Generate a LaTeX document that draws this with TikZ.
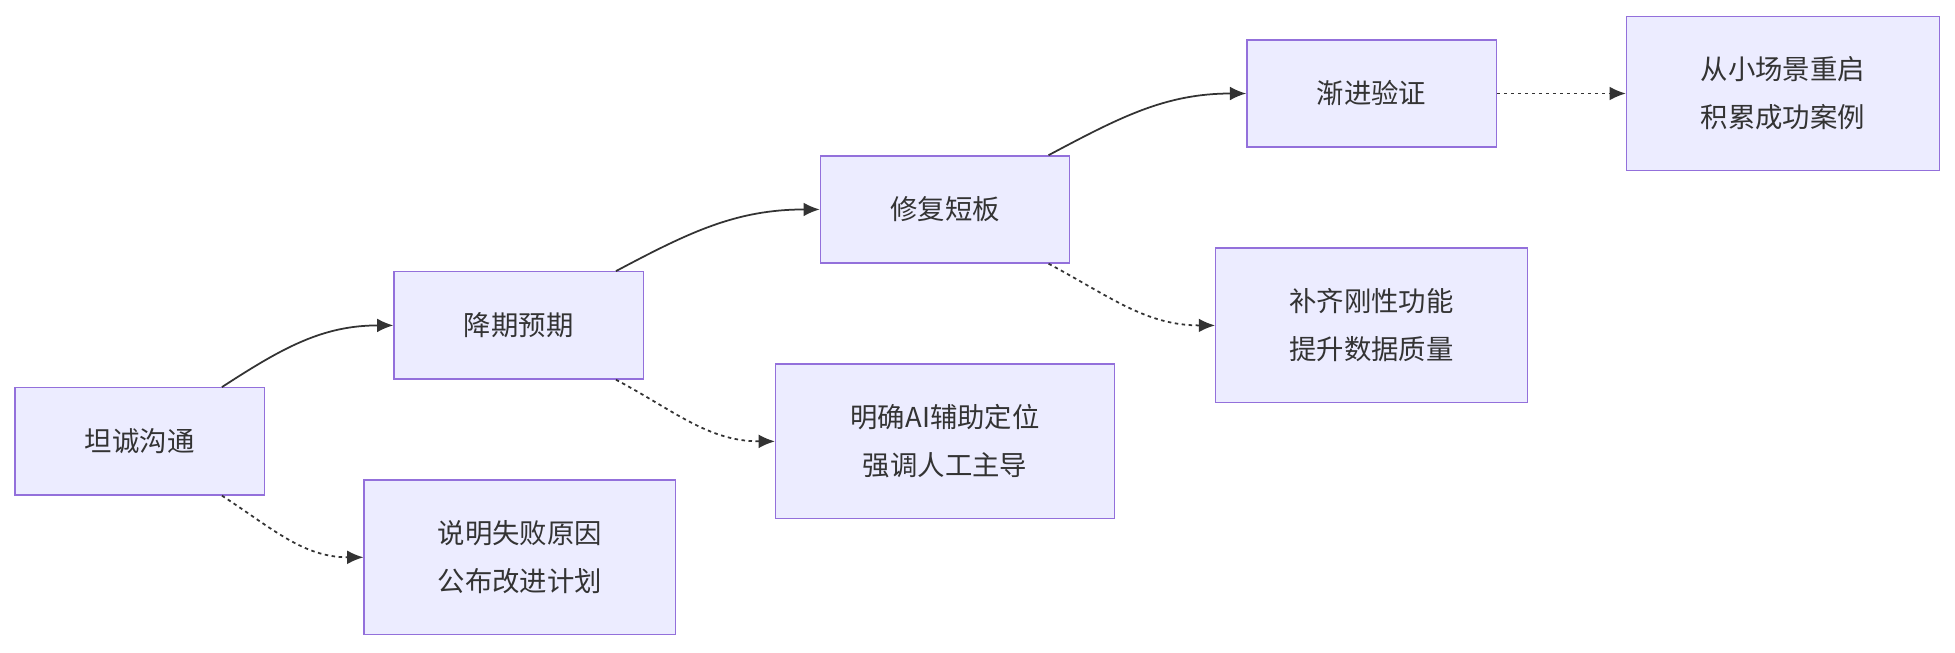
\documentclass[tikz,border=0pt]{standalone}
\usepackage{fontspec}
\setmainfont{Noto Sans CJK SC}
\usetikzlibrary{calc}
\usetikzlibrary{arrows.meta}

\definecolor{boxfill}{HTML}{ECECFF}
\definecolor{boxline}{HTML}{9370DB}
\definecolor{edgecol}{HTML}{333333}

\tikzset{
  stage/.style = {draw = boxline, fill = boxfill, line width = .6pt,
    minimum height = 1.72cm, minimum width = 4cm, align = center,
    font = \fontsize{12.5}{22}\selectfont, text = edgecol},
  wide/.style = {stage, minimum height = 2.48cm},
  flow/.style = {draw = edgecol, line width = .8pt, -{Latex[length = 2.6mm, width = 2.2mm]}},
  aside/.style = {flow, dash pattern = on 1.6pt off 1.6pt}
}

\begin{document}
\begin{tikzpicture}[x = .02cm, y = -.02cm]
  \useasboundingbox (0, 0) rectangle (1568, 523);

  \node[stage] (talk) at (112, 354) {坦诚沟通};
  \node[wide, minimum width = 5cm] (explain) at (417, 447) {说明失败原因\\公布改进计划};
  \node[stage] (lower) at (416, 261) {降期预期};
  \node[wide, minimum width = 5.44cm] (role) at (758, 354) {明确AI辅助定位\\强调人工主导};
  \node[stage] (fix) at (758, 168) {修复短板};
  \node[wide, minimum width = 5cm] (data) at (1100, 261) {补齐刚性功能\\提升数据质量};
  \node[stage] (verify) at (1100, 75) {渐进验证};
  \node[wide, minimum width = 5.02cm] (restart) at (1430, 75) {从小场景重启\\积累成功案例};

  % main line
  \draw[flow] ([xshift = 1.32cm]talk.north) to[out = 33, in = 180] (lower.west);
  \draw[flow] ([xshift = 1.56cm]lower.north) to[out = 28, in = 180] (fix.west);
  \draw[flow] ([xshift = 1.66cm]fix.north) to[out = 28, in = 180] (verify.west);
  \draw[aside] (verify.east) -- (restart.west);

  % side notes
  \draw[aside] ([xshift = 1.32cm]talk.south) to[out = -33, in = 180] (explain.west);
  \draw[aside] ([xshift = 1.56cm]lower.south) to[out = -28, in = 180] (role.west);
  \draw[aside] ([xshift = 1.66cm]fix.south) to[out = -28, in = 180] (data.west);
\end{tikzpicture}
\end{document}
